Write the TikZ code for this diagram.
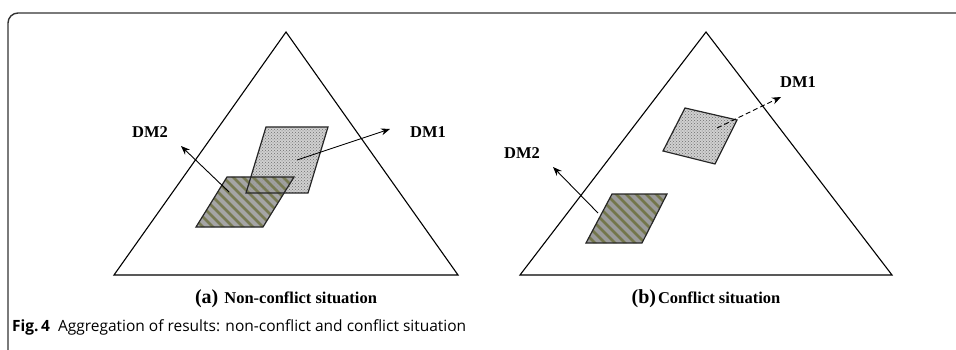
\documentclass[tikz,border=0pt]{standalone}
\usepackage{fontspec}
\setmainfont{Liberation Serif}
\newfontfamily\capfont{Open Sans}
\usetikzlibrary{patterns,arrows.meta}
\definecolor{framec}{RGB}{50,50,50}
\definecolor{stripebg}{RGB}{155,155,155}
\definecolor{stripefg}{RGB}{115,118,75}
\definecolor{dotbg}{RGB}{208,208,208}
\definecolor{dotfg}{RGB}{110,110,110}
\tikzset{
  tri/.style={draw=black, line width=1.1pt, line join=miter},
  shapeline/.style={draw=black!85, line width=1.2pt},
  stripeline/.style={draw=stripefg, line width=2.6pt},
  dotfill/.style={fill=dotbg, postaction={pattern=crosshatch dots, pattern color=dotfg}},
  arr/.style={draw=black, line width=0.9pt, -{Stealth[length=9pt,width=7pt]}},
  dmlabel/.style={font=\fontsize{16.5}{18}\selectfont\bfseries, inner sep=0pt},
  sublabel/.style={font=\fontsize{16.5}{18}\selectfont\bfseries, inner sep=0pt},
}
\begin{document}
\begin{tikzpicture}[x=1pt,y=-1pt]
\useasboundingbox (0,0) rectangle (956,350);
% frame
\draw[framec, line width=1.4pt, rounded corners=10pt] (8,352) -- (8,13) -- (958,13);

% ===== (a) =====
\draw[tri] (114,275) -- (286,32) -- (458,275) -- cycle;
% dotted region
\path[dotfill] (266,127) -- (328,127) -- (308,193) -- (246,193) -- cycle;
% striped region
\begin{scope}[opacity=0.9]
\fill[stripebg] (227,177) -- (294,177) -- (263,227) -- (196,227) -- cycle;
\begin{scope}
\clip (227,177) -- (294,177) -- (263,227) -- (196,227) -- cycle;
\foreach \k in {0,10,...,200} \draw[stripeline] (96+\k,170) -- ++(70,70);
\end{scope}
\end{scope}
\draw[shapeline] (266,127) -- (328,127) -- (308,193) -- (246,193) -- cycle;
\draw[shapeline] (227,177) -- (294,177) -- (263,227) -- (196,227) -- cycle;
\coordinate (a2s) at (229,192);
\coordinate (a2t) at (181,146);
\coordinate (a1s) at (297,160);
\coordinate (a1t) at (390,129);
\node[dmlabel] (aDM2) at (150,132) {DM2};
\node[dmlabel] (aDM1) at (428,132) {DM1};
\draw[arr] (a2s) -- (a2t);
\draw[arr] (a1s) -- (a1t);
\node[sublabel] (capa) at (286,299) {{\fontsize{20}{21}\selectfont (a)}\hspace{6pt}Non-conflict situation};

% ===== (b) =====
\draw[tri] (520,275) -- (706,32) -- (892,275) -- cycle;
\path[dotfill] (685,108) -- (737,120) -- (715,164) -- (663,151) -- cycle;
\fill[stripebg] (612,194) -- (667,194) -- (642,243) -- (586,243) -- cycle;
\begin{scope}
\clip (612,194) -- (667,194) -- (642,243) -- (586,243) -- cycle;
\foreach \k in {0,10,...,200} \draw[stripeline] (480+\k,188) -- ++(70,70);
\end{scope}
\draw[shapeline] (685,108) -- (737,120) -- (715,164) -- (663,151) -- cycle;
\draw[shapeline] (612,194) -- (667,194) -- (642,243) -- (586,243) -- cycle;
\coordinate (b2s) at (598,213);
\coordinate (b2t) at (553,167);
\coordinate (b1s) at (717,128);
\coordinate (b1t) at (781,97);
\node[dmlabel] (bDM2) at (522,153) {DM2};
\node[dmlabel] (bDM1) at (798,82) {DM1};
\draw[arr] (b2s) -- (b2t);
\draw[arr, dashed, dash pattern=on 5pt off 3pt] (b1s) -- (b1t);
\node[sublabel] (capb) at (706,299) {{\fontsize{20}{21}\selectfont (b)}\hspace{2pt}Conflict situation};

% ===== figure caption =====
\node[anchor=west, inner sep=0pt, font=\capfont\fontsize{15.5}{17}\selectfont] (figcap) at (12,327) {\textbf{Fig.\,4}\hspace{8pt}Aggregation of results: non-conflict and conflict situation};
\end{tikzpicture}
\end{document}
